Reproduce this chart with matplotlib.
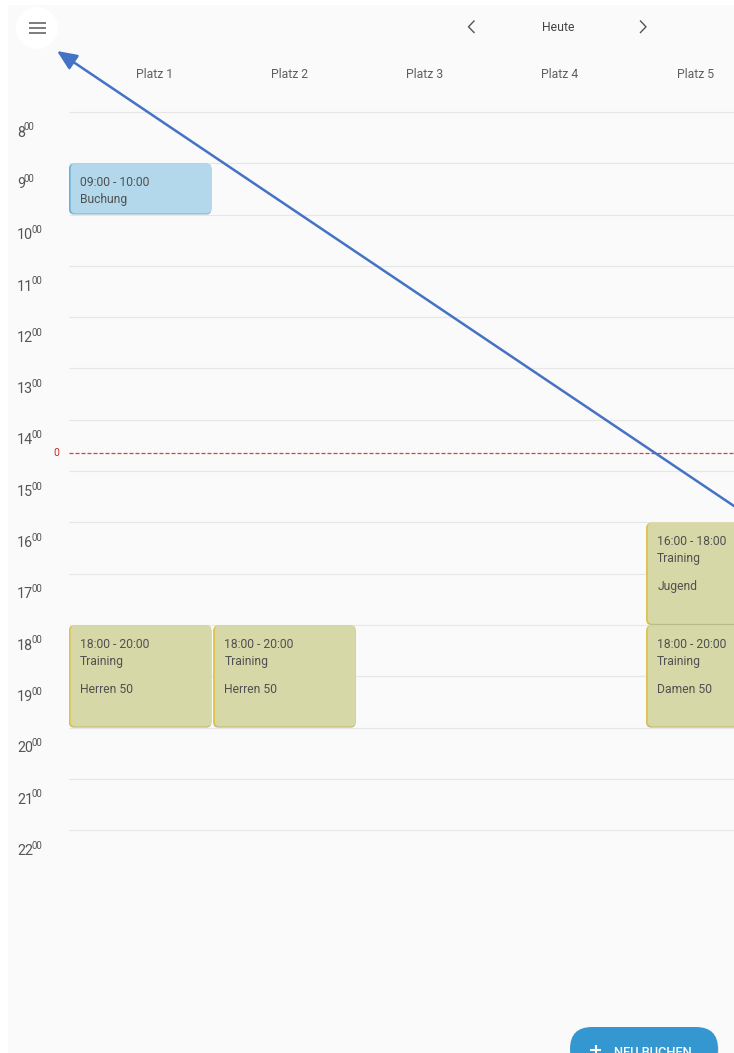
import matplotlib
matplotlib.use("Agg")
import matplotlib.pyplot as plt
from matplotlib.patches import FancyBboxPatch, Rectangle, Circle

plt.rcParams['font.family'] = ['Roboto', 'DejaVu Sans']

# ---------------- data ----------------
courts = ["Platz 1", "Platz 2", "Platz 3", "Platz 4", "Platz 5"]
hours = list(range(8, 23))
ev_court = [0, 0, 1, 4, 4]
ev_start = [9, 18, 18, 16, 18]
ev_end = [10, 20, 20, 18, 20]
ev_type = ["Buchung", "Training", "Training", "Training", "Training"]
ev_group = ["", "Herren 50", "Herren 50", "Jugend", "Damen 50"]
now_hour = 14.65
now_label = "0"
nav_label = "Heute"
button_label = "NEU BUCHEN"

# ---------------- geometry (pixels) ----------------
W, H = 734, 1053
COL_X0, COL_W = 68.5, 144.3       # column 0 starts at pixel x, width in px
ROW_Y0, ROW_H = 112.0, 51.3       # hour 8 at pixel y, px per hour

def cx(px):
    return (px - COL_X0) / COL_W

def hy(py):
    return hours[0] + (py - ROW_Y0) / ROW_H

fig = plt.figure(figsize=(W / 100, H / 100), dpi=100)
fig.patch.set_facecolor('white')

bg = fig.add_axes([0, 0, 1, 1], zorder=-2)
bg.set_xlim(0, W); bg.set_ylim(H, 0); bg.axis('off')
bg.add_patch(Rectangle((8, 5), W - 8, H - 5, facecolor='#fafafa', edgecolor='none'))

ax = fig.add_axes([0, 0, 1, 1], zorder=0)
ax.set_xlim(cx(0), cx(W))
ax.set_ylim(hy(H), hy(0))
ax.axis('off')

ui = fig.add_axes([0, 0, 1, 1], zorder=1)
ui.set_xlim(0, W); ui.set_ylim(H, 0); ui.axis('off')

# grid lines
ax.hlines(hours, 0, cx(W), colors='#e7e7e7', linewidth=0.8, zorder=1)

# hour labels
px_h = 1.0 / ROW_H
HOUR_FS = 10.3
digit_px = 0.562 * HOUR_FS * 100 / 72
for h in hours:
    lab = f"{h}"
    ax.text(cx(17), h + 24.7 * px_h, lab, fontsize=HOUR_FS, color='#555555',
            ha='left', va='baseline', zorder=3)
    ax.text(cx(17 + digit_px * len(lab) - 1.3), h + 18.5 * px_h, "00", fontsize=7,
            color='#555555', ha='left', va='baseline', zorder=3)

# current time line
ax.hlines([now_hour], 0, cx(W), colors='#e53935', linewidth=0.9,
          linestyles=(0, (3.2, 1.6)), zorder=2)
ax.text(cx(56), now_hour, now_label, fontsize=7.5, color='#c62828',
        ha='center', va='center', zorder=3)

# column headers
for i, name in enumerate(courts):
    ui.text(154.5 + i * 135.2, 74, name, fontsize=8.8, color='#5f5f5f',
            ha='center', va='center')

# events
styles = {
    "Buchung": ("#b3d8ec", "#6aaedb", "#9dbfd2"),
    "Training": ("#d6d8a8", "#e2c244", "#b8bb8c"),
}
aspect = COL_W / ROW_H
r = 5.0 / COL_W
for c, s, e, typ, grp in zip(ev_court, ev_start, ev_end, ev_type, ev_group):
    fill, accent, shadow = styles[typ]
    x0 = c + 0.5 / COL_W
    w = 1 - 2.0 / COL_W
    y0 = s + 0.3 * px_h
    hgt = (e - s) - 1.5 * px_h
    ax.add_patch(FancyBboxPatch((x0, y0 + 1.2 * px_h), w, hgt,
                                boxstyle=f"round,pad=0,rounding_size={r}",
                                mutation_aspect=aspect, facecolor=shadow,
                                edgecolor='none', zorder=4))
    ax.add_patch(FancyBboxPatch((x0, y0), w, hgt,
                                boxstyle=f"round,pad=0,rounding_size={r}",
                                mutation_aspect=aspect, facecolor=accent,
                                edgecolor='none', zorder=5))
    ax.add_patch(FancyBboxPatch((x0 + 1.6 / COL_W, y0), w - 1.6 / COL_W, hgt,
                                boxstyle=f"round,pad=0,rounding_size={r}",
                                mutation_aspect=aspect, facecolor=fill,
                                edgecolor='none', zorder=6))
    tx = c + 11.5 / COL_W
    ax.text(tx, s + 23.0 * px_h, f"{s:02d}:00 - {e:02d}:00", fontsize=8.7,
            color='#505050', ha='left', va='baseline', zorder=7)
    ax.text(tx, s + 40.0 * px_h, typ, fontsize=8.7, color='#505050',
            ha='left', va='baseline', zorder=7)
    if grp:
        ax.text(tx, s + 68.0 * px_h, grp, fontsize=8.7, color='#505050',
                ha='left', va='baseline', zorder=7)

# top bar: menu button
ui.add_patch(Circle((37, 28), 21, facecolor='white', edgecolor='none'))
for yy in (23.3, 28.3, 33.3):
    ui.plot([29, 45.5], [yy, yy], color='#666666', lw=1.2, solid_capstyle='butt')

# navigation
ui.plot([474, 468.5, 474], [21, 26.8, 32.5], color='#555555', lw=1.0)
ui.plot([640.5, 646, 640.5], [21, 26.8, 32.5], color='#555555', lw=1.0)
ui.text(558, 27.5, nav_label, fontsize=8.8, color='#444444', ha='center', va='center')

# floating button
ui.add_patch(FancyBboxPatch((571, 1029), 148, 44, boxstyle="round,pad=0,rounding_size=22",
                            facecolor='#d9d9d9', edgecolor='none', alpha=0.6))
ui.add_patch(FancyBboxPatch((570, 1027), 148, 44, boxstyle="round,pad=0,rounding_size=22",
                            facecolor='#3597cf', edgecolor='none'))
ui.plot([590, 601], [1050, 1050], color='white', lw=1.5, solid_capstyle='butt')
ui.plot([595.5, 595.5], [1044.5, 1055.5], color='white', lw=1.5, solid_capstyle='butt')
ui.text(614, 1056, button_label, fontsize=9.3, color='white', fontweight='medium',
        ha='left', va='baseline')

# annotation arrow
ui.annotate("", xy=(57, 51), xytext=(745, 513.4),
            arrowprops=dict(arrowstyle='-|>,head_length=0.8,head_width=0.35',
                            color='#4472c4', lw=1.8, mutation_scale=15,
                            shrinkA=0, shrinkB=0), annotation_clip=False)

fig.savefig("out.png", dpi=100, facecolor=fig.get_facecolor())
